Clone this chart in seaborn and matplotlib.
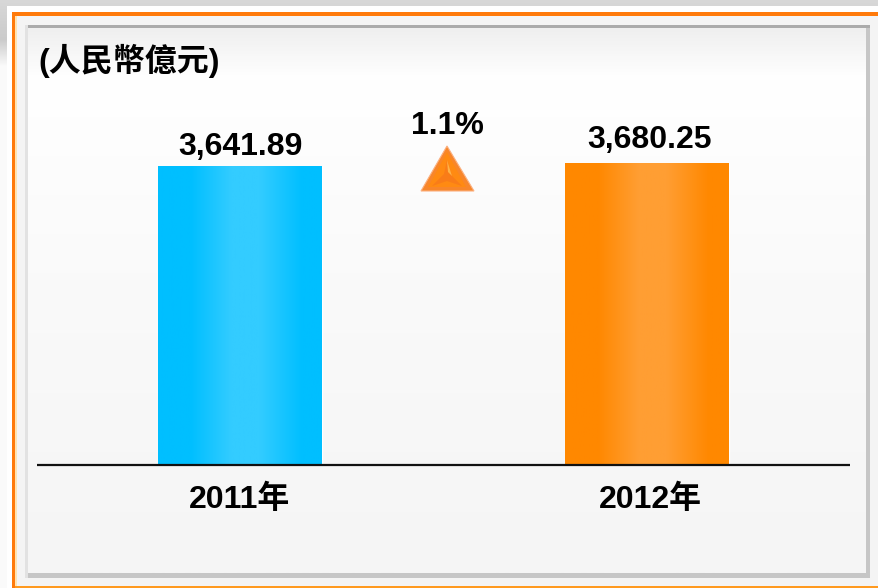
import numpy as np
import pandas as pd
import seaborn as sns
import matplotlib.pyplot as plt
from matplotlib.colors import LinearSegmentedColormap
from matplotlib.patches import Polygon, Rectangle
from matplotlib.transforms import ScaledTranslation

years = ["2011年", "2012年"]
values = [3641.89, 3680.25]
change_label = "1.1%"
unit_label = "(人民幣億元)"
edge_colors = ["#00BFFF", "#FF8800"]
mid_colors = ["#33CCFF", "#FF9E33"]

sns.set_theme(style="white")
plt.rcParams["font.family"] = ["Liberation Sans", "Noto Sans CJK TC"]
plt.rcParams["font.weight"] = "bold"

W, H = 879, 588
fig = plt.figure(figsize=(W / 100, H / 100), dpi=100)

# background panel, drawn in pixel coords
bg = fig.add_axes([0, 0, 1, 1], zorder=0)
bg.set_xlim(0, W)
bg.set_ylim(H, 0)
bg.axis("off")

outer = LinearSegmentedColormap.from_list("outer", [(0, "#D8D8D8"), (0.6, "#CBCBCB"), (1, "#FAFAFA")])
bg.imshow(np.linspace(0, 1, 256).reshape(-1, 1), cmap=outer, aspect="auto", extent=(0, W, 66, 0))
bg.add_patch(Rectangle((0, 66), W, H - 66, fc="#FAFAFA", ec="none"))
bg.add_patch(Rectangle((7, 6), W, 6, fc="white", ec="none"))
bg.add_patch(Rectangle((7, 6), 5, 582, fc="white", ec="none"))
bg.add_patch(Rectangle((12, 12), W - 12, 576, fc="#FF9A1F", ec="none"))
bg.add_patch(Rectangle((12, 12), W - 12, 4, fc="#FF7A0A", ec="none"))
bg.add_patch(Rectangle((12, 12), 3, 576, fc="#FF7A0A", ec="none"))
bg.add_patch(Rectangle((15, 16), W - 16, 570, fc="#F4F4F4", ec="none"))
bg.add_patch(Rectangle((15, 16), 2, 570, fc="#FFE3B0", ec="none"))

# inner frame with gradient fill
bg.add_patch(Rectangle((25, 25), 845, 553, fc="#C6C6C6", ec="none", zorder=2))
bg.add_patch(Rectangle((25, 25), 845, 3, fc="#ABABAB", ec="none", zorder=2))
bg.add_patch(Rectangle((25, 25), 3, 553, fc="#E2E2E2", ec="none", zorder=2))
panel = LinearSegmentedColormap.from_list(
    "panel", [(0, "#EFEFEF"), (0.09, "#FFFFFF"), (0.45, "#FAFAFA"), (1, "#F5F5F5")]
)
bg.imshow(np.linspace(0, 1, 256).reshape(-1, 1), cmap=panel, aspect="auto", extent=(28, 866, 573, 28), zorder=3)
bg.set_xlim(0, W)
bg.set_ylim(H, 0)

# chart axes
ax = fig.add_axes([37 / W, 1 - 465 / H, 813 / W, 365 / H], zorder=1)
ax.patch.set_alpha(0)
df = pd.DataFrame({"year": years, "value": values})
sns.barplot(data=df, x="year", y="value", hue="year", palette=edge_colors, width=0.401, legend=False, ax=ax)
ax.set_xlim(-0.4988, 1.4988)
ax.set_ylim(0, 4448)

for bar, c1, c2 in zip(ax.patches, edge_colors, mid_colors):
    cmap = LinearSegmentedColormap.from_list("bar", [(0, c1), (0.2, c1), (0.45, c2), (0.62, c2), (0.88, c1), (1, c1)])
    x0, w, h = bar.get_x(), bar.get_width(), bar.get_height()
    im = ax.imshow(np.linspace(0, 1, 256).reshape(1, -1), cmap=cmap, aspect="auto",
                   extent=(x0, x0 + w, 0, h), zorder=2)
    im.set_clip_path(bar)
ax.set_xlim(-0.4988, 1.4988)
ax.set_ylim(0, 4448)

# label offsets in points
for cont, shift in zip(ax.containers, [(0, 3), (1.5, 5.5)]):
    lbls = ax.bar_label(cont, fmt="{:,.2f}", padding=6, fontsize=23, fontweight="bold", color="black", zorder=4)
    for lbl in lbls:
        lbl.xyann = shift

sns.despine(ax=ax, left=True)
ax.spines["bottom"].set_color("#111111")
ax.spines["bottom"].set_linewidth(1.6)
ax.spines["bottom"].set_capstyle("butt")
ax.set_xlabel("")
ax.set_ylabel("")
ax.set_yticks([])
ax.tick_params(axis="x", length=0, pad=14, labelsize=23, labelcolor="black")
tick = ax.get_xticklabels()[1]
tick.set_transform(tick.get_transform() + ScaledTranslation(0.03, 0, fig.dpi_scale_trans))

# unit label and change marker
top = fig.add_axes([0, 0, 1, 1], zorder=2)
top.set_xlim(0, W)
top.set_ylim(H, 0)
top.axis("off")
top.patch.set_alpha(0)
top.text(38, 61, unit_label, fontsize=23, fontweight="bold", color="black", va="center", ha="left")
top.text(447, 126, change_label, fontsize=23, fontweight="bold", color="black", va="center", ha="center")

top.add_patch(Polygon([(447, 146), (474, 191), (421, 191)], fc="#F8862A", ec="#FBB080", lw=0.8))
top.add_patch(Polygon([(447, 152), (466, 187), (428, 187)], fc="#FF8A12", ec="none"))
top.add_patch(Polygon([(447, 160), (452, 176), (462, 186), (447, 181), (432, 186), (444, 174)], fc="#F97C18", ec="none"))
top.add_patch(Polygon([(447, 160), (452, 176), (460, 184), (448, 172)], fc="#FFB347", ec="none"))

fig.savefig("out.png", dpi=100)
